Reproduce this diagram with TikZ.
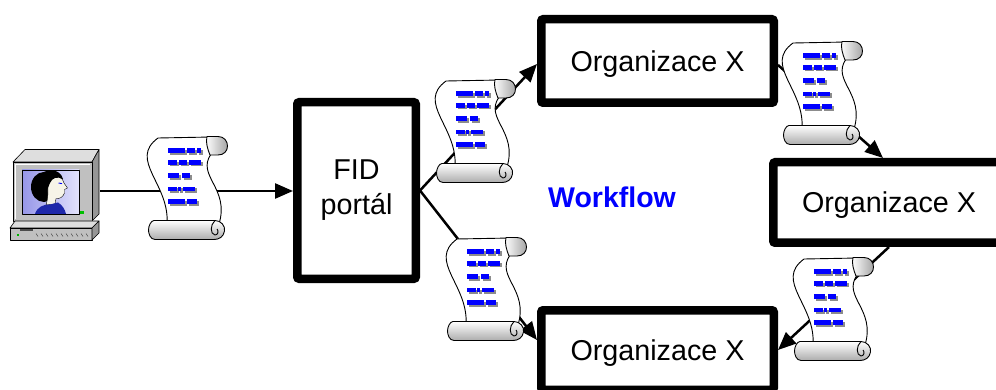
\documentclass[tikz,border=0pt]{standalone}
\usepackage{fontspec}
\setmainfont{Liberation Sans}
\usetikzlibrary{arrows.meta,calc}

\definecolor{screenA}{RGB}{150,150,232}
\definecolor{screenB}{RGB}{226,226,252}
\definecolor{shirtblue}{RGB}{30,40,170}
\definecolor{skin}{RGB}{246,244,232}
\definecolor{caseF}{RGB}{192,192,192}
\definecolor{caseT}{RGB}{222,222,222}
\definecolor{caseS}{RGB}{150,150,150}
\definecolor{inkshadow}{RGB}{140,140,140}

\tikzset{
  orgbox/.style={draw, line width=8.5pt, rounded corners=2pt, fill=white,
    font=\fontsize{28.7}{35}\selectfont, align=center, inner sep=0pt},
  onelinebox/.style={orgbox, text height=20.5pt, text depth=0pt},
  flow/.style={line width=2.5pt, -{Triangle[length=18pt,width=15pt]}},
  scrolledge/.style={line width=0.9pt, line join=round},
  % a rolled document with a few lines of text
  scroll/.pic={
    % sheet
    \filldraw[scrolledge, fill=white]
      (10,2) -- (64,1) -- (63,18)
      .. controls (48,40) and (82,52) .. (71,88)
      -- (19,88)
      .. controls (22,48) and (-20,24) .. (10,2) -- cycle;
    % text lines
    \foreach \y/\a/\b in {14.7/20.3/37, 14.7/38.7/47, 14.7/49.3/52.7,
                          26.3/20.3/28.7, 26.3/31/38.7, 26.3/41.3/52.7,
                          39.7/20.3/31.3, 39.7/33.7/42,
                          53/20.3/28.7, 53/30.3/32.7, 53/35.3/47,
                          65.7/20.3/37, 65.7/38.7/48.7}{
      \fill[inkshadow] (\a+1.8,\y-0.5) rectangle (\b+1.8,\y+4.1);
      \fill[blue] (\a,\y-2.3) rectangle (\b,\y+2.3);
    }
    % top roll
    \shade[left color=white, right color=gray!70]
      (59,0.5) -- (70,0.5) .. controls (76,0.5) and (79.5,5) .. (79.5,10)
      .. controls (79.5,15) and (76,19) .. (70,19) -- (62,19)
      .. controls (59.5,13) and (57.5,6) .. (59,0.5) -- cycle;
    \draw[scrolledge]
      (59,0.5) -- (70,0.5) .. controls (76,0.5) and (79.5,5) .. (79.5,10)
      .. controls (79.5,15) and (76,19) .. (70,19) -- (62,19)
      .. controls (59.5,13) and (57.5,6) .. (59,0.5) -- cycle;
    % bottom roll
    \shade[top color=white, bottom color=gray!65]
      (6,84.5) -- (67,84.5) .. controls (73,84.5) and (77.5,90) .. (76.5,95)
      .. controls (75.5,101) and (71,103.5) .. (66,103.5) -- (7,103.5)
      .. controls (2,103.5) and (0.5,97) .. (0.5,94)
      .. controls (0.5,90) and (3,84.5) .. (6,84.5) -- cycle;
    \draw[scrolledge]
      (6,84.5) -- (67,84.5) .. controls (73,84.5) and (77.5,90) .. (76.5,95)
      .. controls (75.5,101) and (71,103.5) .. (66,103.5) -- (7,103.5)
      .. controls (2,103.5) and (0.5,97) .. (0.5,94)
      .. controls (0.5,90) and (3,84.5) .. (6,84.5) -- cycle;
    \draw[scrolledge] (67,84.5) .. controls (62,89) and (62,98) .. (67,99)
      .. controls (70,99) and (71,95) .. (69,93);
  }
}

\begin{document}
\begin{tikzpicture}[x=1pt, y=-1pt]
  \useasboundingbox (0,0) rectangle (996,390);
  \clip (0,0) rectangle (996,390);

  % workstation
  \begin{scope}[line width=0.6pt, line join=round]
    \filldraw[fill=caseT] (13,162) -- (25,149.5) -- (99,149.5) -- (92,162) -- cycle;
    \filldraw[fill=caseS] (92,162) -- (99,149.5) -- (99,214) -- (92,221) -- cycle;
    \filldraw[fill=caseF] (13,162) rectangle (92,221);
    \draw[white, line width=1pt] (15.5,219) -- (15.5,164.5) -- (89.5,164.5);
    \shade[left color=screenA, right color=screenB] (22,170) rectangle (79,214);
    \begin{scope}
      \clip (22,170) rectangle (79,214);
      \fill[black] (44,187) ellipse [x radius=13, y radius=15];
      \filldraw[fill=skin, line width=0.4pt]
        (52,176) .. controls (58,175) and (63,178) .. (64,183)
        -- (67.5,188) -- (64.5,189.5) -- (64.5,193)
        .. controls (63,197) and (60,199) .. (56,198.5)
        -- (55,204) -- (46,205)
        .. controls (48,199) and (48,193) .. (48,188)
        .. controls (48,182) and (49,178) .. (52,176) -- cycle;
      \fill[black] (38,176) .. controls (46,168) and (60,168) .. (63,179)
        .. controls (57,176) and (52,178) .. (50,183) -- (46,192) -- cycle;
      \draw[blue, line width=0.9pt] (58.5,183) -- (62,183.6);
      \fill[shirtblue] (35,214) .. controls (37,207) and (44,204) .. (50,204.5)
        -- (58,202.5) .. controls (62,205) and (65,209) .. (66,214) -- cycle;
    \end{scope}
    \draw (22,170) rectangle (79,214);
    \fill[green!75!black] (79.5,211.5) rectangle (83.5,214);
    \filldraw[fill=caseT] (10,228) -- (15,221) -- (99,221) -- (92,228) -- cycle;
    \filldraw[fill=caseF] (10,228) rectangle (92,240);
    \filldraw[fill=caseS] (92,228) -- (99,221) -- (99,233) -- (92,240) -- cycle;
    \fill[black!70] (20,229.5) rectangle (33,231);
    \fill[green!70!black] (17,234) rectangle (19,236);
    \foreach \vx in {36,41,...,86}{
      \draw[gray!60!black, line width=0.5pt] (\vx,233.5) -- (\vx+2,236.5);
    }
  \end{scope}
  \coordinate (pc) at (100,191);

  % process boxes
  \node[orgbox, minimum width=118.5pt, minimum height=176.5pt] (fid) at (356.5,190.5) {FID\\portál};
  \node[onelinebox, minimum width=232.5pt, minimum height=83.5pt] (orgA) at (657.5,61) {Organizace X};
  \node[onelinebox, minimum width=231.5pt, minimum height=80.5pt] (orgB) at (889,202.5) {Organizace X};
  \node[onelinebox, minimum width=232.5pt, minimum height=79.5pt] (orgC) at (657.5,350) {Organizace X};
  \node[font=\bfseries\fontsize{28.5}{34}\selectfont, text=blue] (wf) at (612,197) {Workflow};

  % document flow
  \draw[flow] (pc) -- (fid.west |- pc);
  \draw[flow] (fid.east) -- ($(orgA.west)+(0,3)$);
  \draw[flow] (fid.east) -- ($(orgC.west)+(0,-10)$);
  \draw[flow] ($(orgA.east)+(0,4)$) -- ($(orgB.north)+(-6,0)$);
  \draw[flow] (orgB.south) -- (orgC.east);

  % documents travelling along the flow
  \pic at (148,136) {scroll};
  \pic at (436,79) {scroll};
  \pic at (783,41) {scroll};
  \pic at (794,257) {scroll};
  \pic at (447,237) {scroll};
\end{tikzpicture}
\end{document}
